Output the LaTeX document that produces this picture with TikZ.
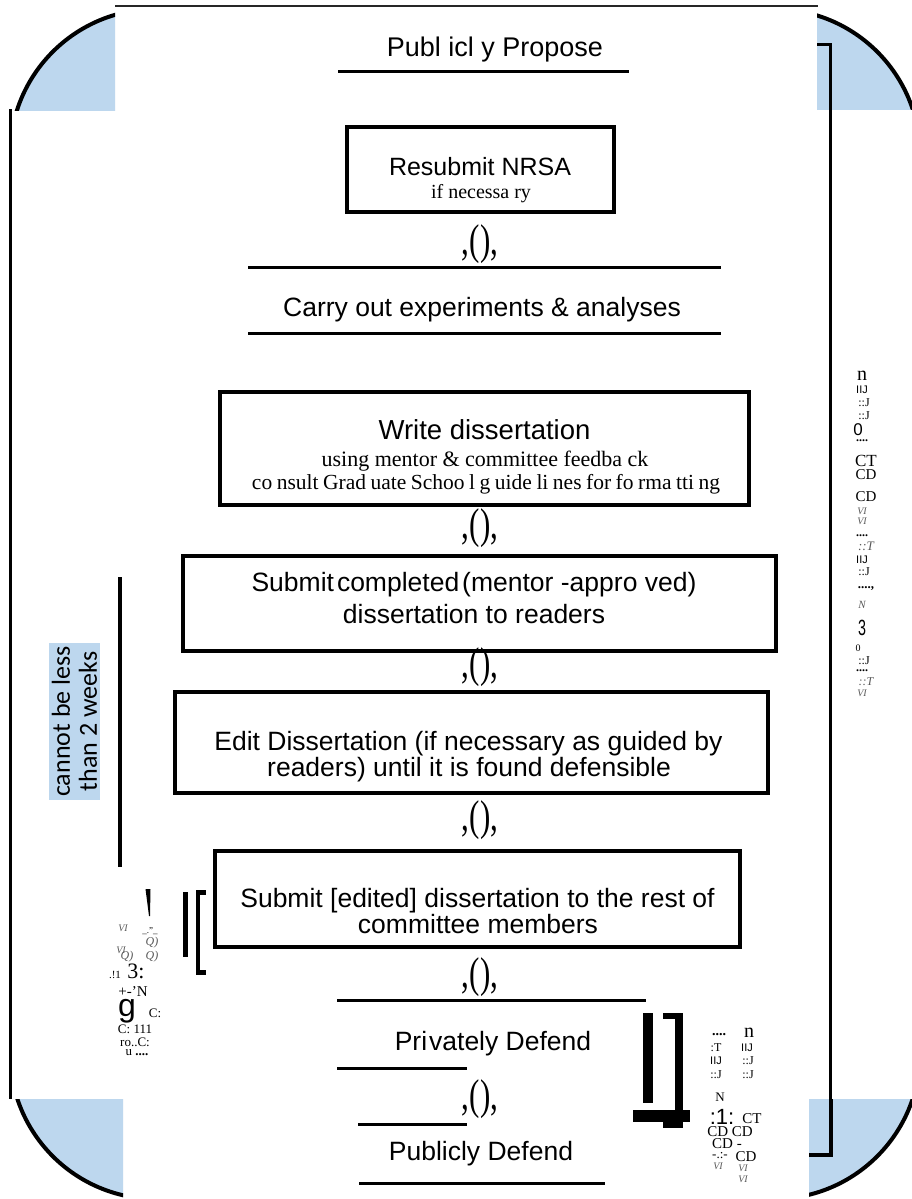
\documentclass[tikz,border=0pt]{standalone}
\usepackage{fontspec}
\usepackage{graphicx}
\setmainfont{Liberation Serif}
\setsansfont{Liberation Sans}
\newfontfamily\carlito{Carlito}
\usetikzlibrary{calc}
\definecolor{cornerblue}{RGB}{189,215,238}
\begin{document}
\begin{tikzpicture}[x=1pt,y=-1pt,
  flowbox/.style={draw, line width=4pt, inner sep=0pt},
  sans/.style={inner sep=0pt, font=\sffamily\fontsize{#1}{#1}\selectfont},
  serif/.style={inner sep=0pt, font=\rmfamily\fontsize{#1}{#1}\selectfont},
  gserif/.style={inner sep=0pt, font=\rmfamily\itshape\fontsize{#1}{#1}\selectfont, text=black!65},
  conn/.style={inner sep=0pt, font=\rmfamily\fontsize{43}{43}\selectfont},
  rule/.style={line width=3pt},
  frame/.style={line width=3pt},
  corner/.style={line width=4pt}]
\useasboundingbox (0,0) rectangle (911,1199);
\fill[white] (0,0) rectangle (911,1199);

% ---- corner quarter discs ----
\begin{scope}
  \clip (0,0) rectangle (115,110);
  \fill[cornerblue] (156,155) circle[radius=146pt];
  \draw[corner] (156,155) circle[radius=146pt];
\end{scope}
\begin{scope}
  \clip (817,0) rectangle (915,109);
  \fill[cornerblue] (774,155) circle[radius=146pt];
  \draw[corner] (774,155) circle[radius=146pt];
\end{scope}
\begin{scope}
  \clip (0,1099) rectangle (123,1205);
  \fill[cornerblue] (156,1053) circle[radius=146pt];
  \draw[corner] (156,1053) circle[radius=146pt];
\end{scope}
\begin{scope}
  \clip (809,1099) rectangle (915,1205);
  \fill[cornerblue] (774,1053) circle[radius=146pt];
  \draw[corner] (774,1053) circle[radius=146pt];
\end{scope}

% ---- frame lines ----
\draw[line width=2.5pt, black!85] (115,6) coordinate (tl) -- (818,6) coordinate (tr);
\draw[frame] (10,109) coordinate (lt) -- (10,1099) coordinate (lb);
\draw[frame] (817,45) -- (830,45) -- (830,1099);
\draw[line width=4.5pt] (831,1099) -- (831,1155) -- (809,1155);

% ---- main column ----
\node[sans=27] (propose) at (495,50) {Publ icl y Propose};
\draw[rule] (338,72) coordinate (p1) -- (629,72) coordinate (p2);

\node[flowbox, minimum width=267pt, minimum height=85pt] (resub) at (480.5,169.5) {};
\node[sans=25] (resubT) at (480,167) {Resubmit NRSA};
\node[serif=20] (resubS) at (481,194) {if necessa ry};
\node[conn] (c1) at (480,244) {\scalebox{0.72}[1]{,(),}};

\draw[rule] (248,267) coordinate (ca1) -- (721,267) coordinate (ca2);
\node[sans=26.5] (carry) at (482,310) {Carry out experiments \& analyses};
\draw[rule] (248,333) coordinate (cb1) -- (721,333) coordinate (cb2);

\node[flowbox, minimum width=529pt, minimum height=113pt] (write) at (484.5,448.5) {};
\node[sans=27.5] (writeT) at (484.5,430) {Write dissertation};
\node[serif=22] (writeS1) at (485,461) {using mentor \& committee feedba ck};
\node[serif=21.5] (writeS2) at (486,484) {\spaceskip=0.21em co nsult Grad uate Schoo l g uide li nes for fo rma tti ng};
\node[conn] (c2) at (480,528) {\scalebox{0.72}[1]{,(),}};

\node[flowbox, minimum width=593pt, minimum height=95pt] (subm) at (479.5,603.5) {};
\node[sans=26.5] (submT1) at (474,585) {Submit\hspace{3pt}completed\hspace{3pt}(mentor -appro ved)};
\node[sans=26.5] (submT2) at (474,614) {dissertation to readers};
\node[conn] (c3) at (480,667) {\scalebox{0.72}[1]{,(),}};

\node[flowbox, minimum width=593pt, minimum height=101pt] (edit) at (471.5,742.5) {};
\node[sans=26.5] (editT1) at (468.5,744) {Edit Dissertation (if necessary as guided by};
\node[sans=26.5] (editT2) at (469,770) {readers) until it is found defensible};
\node[conn] (c4) at (480,820) {\scalebox{0.72}[1]{,(),}};

\node[flowbox, minimum width=525pt, minimum height=96pt] (subr) at (477.5,899) {};
\node[sans=26.5] (subrT1) at (477.5,901) {Submit [edited] dissertation to the rest of};
\node[sans=26.5] (subrT2) at (478,924) {committee members};
\node[conn] (c5) at (480,977) {\scalebox{0.72}[1]{,(),}};

\draw[rule] (337,1000) coordinate (pd1) -- (646,1000) coordinate (pd2);
\node[sans=26.5] (priv) at (493,1044) {Pri\hspace{2pt}vately Defend};
\draw[rule] (337,1068) coordinate (pd3) -- (467,1068) coordinate (pd4);
\node[conn] (c6) at (480,1099) {\scalebox{0.72}[1]{,(),}};
\draw[rule] (358,1124) coordinate (pb1) -- (467,1124) coordinate (pb2);
\node[sans=26.5] (pub) at (481,1154) {Publicly Defend};
\draw[rule] (359,1183) coordinate (pb3) -- (605,1183) coordinate (pb4);

% ---- left side ----
\draw[line width=4pt] (120,577) coordinate (w1) -- (120,867) coordinate (w2);
\node[rotate=90, fill=cornerblue, inner sep=0pt, align=center,
      font=\carlito\fontsize{26}{27}\selectfont,
      minimum width=157pt, minimum height=51pt] (weeks) at (74.5,721.5) {cannot be less\\than 2 weeks};
\fill (183,892) rectangle (188,957);
\fill (196,890) rectangle (200,975);
\fill (196,890) rectangle (206,895);
\fill (196,970) rectangle (206,975);
\fill (145.5,889) -- (150.5,889) -- (150,916) -- (149,916) -- cycle;

\node[gserif=10] (l1) at (123,928) {VI};
\node[serif=9] (l2) at (150,931) {{\_}.''{\_}};
\node[gserif=12] (l3) at (152,943) {Q)};
\node[gserif=10] (l4) at (121,950) {VI};
\node[gserif=12] (l5) at (127,957) {Q)};
\node[gserif=12] (l6) at (152,957) {Q)};
\node[serif=11] (l7) at (115,975) {.!1};
\node[serif=22] (l8) at (136,971) {3:};
\node[serif=15] (l9) at (133,991) {+-'N};
\node[sans=32] (l10) at (127,1011) {g};
\node[serif=13] (l11) at (155,1013) {C:};
\node[serif=13] (l12) at (135,1029) {C: 111};
\node[serif=13] (l13) at (135,1042) {ro..C:};
\node[serif=13] (l14) at (137,1053) {u \textbf{....}};

% ---- bottom right brackets ----
\fill (643,1013) rectangle (653,1103);
\fill (663,1013) rectangle (683,1019);
\fill (675,1013) rectangle (683,1128);
\fill (633,1110) rectangle (690,1122);
\fill (663,1122) rectangle (683,1128);

\node[serif=14] (b1) at (719,1035) {\textbf{....}};
\node[serif=20] (b2) at (749,1033) {n};
\node[serif=12] (b3) at (716,1048) {:T};
\node[sans=11] (b4) at (747,1048) {IIJ};
\node[sans=11] (b5) at (716,1061) {IIJ};
\node[serif=12] (b6) at (748,1061) {::J};
\node[serif=12] (b7) at (716,1075) {::J};
\node[serif=12] (b8) at (748,1075) {::J};
\node[serif=13] (b9) at (720,1097) {N};
\node[sans=22] (b10) at (722,1117) {:1:};
\node[serif=15] (b11) at (752,1119) {CT};
\node[serif=15] (b12) at (730,1132) {CD CD};
\node[serif=15] (b13) at (727,1144) {CD -};
\node[serif=13] (b14) at (720,1156) {-.:-};
\node[serif=15] (b15) at (746,1157) {CD};
\node[gserif=10] (b16) at (718,1166) {VI};
\node[gserif=10] (b17) at (743,1168) {VI};
\node[gserif=10] (b18) at (743,1179) {VI};

% ---- right column ----
\node[serif=20] (r1) at (862,376) {n};
\node[sans=11] (r2) at (862,390) {IIJ};
\node[serif=12] (r3) at (864,403) {::J};
\node[serif=12] (r4) at (864,416) {::J};
\node[sans=17] (r5) at (858,430) {0};
\node[serif=12] (r6) at (862,441) {\textbf{....}};
\node[serif=17] (r7) at (866,461) {CT};
\node[serif=15] (r8) at (866,475) {CD};
\node[serif=15] (r9) at (866,497) {CD};
\node[gserif=10] (r10) at (862,511) {VI};
\node[gserif=10] (r11) at (862,521) {VI};
\node[serif=12] (r12) at (862,536) {\textbf{....}};
\node[gserif=13] (r13) at (866,546) {::T};
\node[sans=11] (r14) at (862,560) {IIJ};
\node[serif=12] (r15) at (864,572) {::J};
\node[serif=13] (r16) at (866,589) {\textbf{....,}};
\node[gserif=11] (r17) at (862,605) {N};
\node[sans=22] (r18) at (862,628) {\scalebox{0.65}[1]{3}};
\node[serif=10] (r19) at (858,648) {0};
\node[serif=12] (r20) at (864,661) {::J};
\node[serif=12] (r21) at (862,671) {\textbf{....}};
\node[gserif=12] (r22) at (866,682) {::T};
\node[gserif=10] (r23) at (862,693) {VI};
\end{tikzpicture}
\end{document}
